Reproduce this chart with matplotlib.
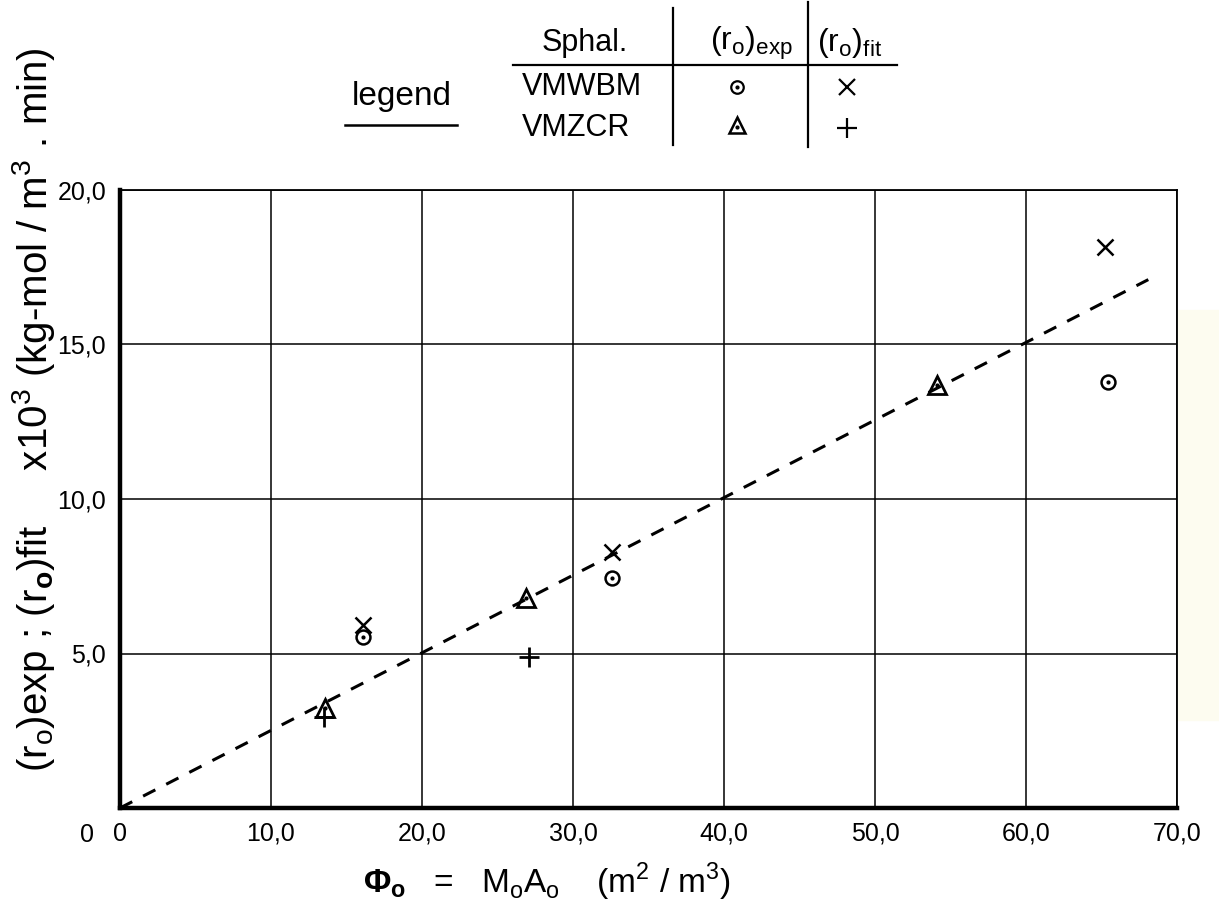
import numpy as np
import matplotlib.pyplot as plt
from matplotlib.patches import Rectangle
from matplotlib.transforms import ScaledTranslation

# values
wbm_exp_x = [16.1, 32.6, 65.4]
wbm_exp_y = [5.53, 7.45, 13.8]
wbm_fit_x = [16.1, 32.6, 65.2]
wbm_fit_y = [5.92, 8.3, 18.15]
zcr_exp_x = [13.6, 26.9, 54.1]
zcr_exp_y = [3.24, 6.8, 13.7]
zcr_fit_x = [13.5, 27.1]
zcr_fit_y = [2.95, 4.9]
line_x = [0, 68.1]
line_y = [0, 17.1]

x_ticks = [0, 10, 20, 30, 40, 50, 60, 70]
x_labels = ['0', '10,0', '20,0', '30,0', '40,0', '50,0', '60,0', '70,0']
y_ticks = [0, 5, 10, 15, 20]
y_labels = ['0', '5,0', '10,0', '15,0', '20,0']

plt.rcParams['font.family'] = ['Liberation Sans', 'DejaVu Sans']
plt.rcParams['mathtext.fontset'] = 'custom'
plt.rcParams['mathtext.rm'] = 'Liberation Sans'
plt.rcParams['mathtext.bf'] = 'Liberation Sans:bold'

W, H = 1219, 910
fig = plt.figure(figsize=(W / 100, H / 100), dpi=100)

# faint yellow scan patch on the right
fig.patches.append(Rectangle((1160 / W, 1 - 720 / H), 59 / W, 410 / H,
                             transform=fig.transFigure, color='#fdfcf0', zorder=-5))

ax = fig.add_axes([120 / W, 1 - 808 / H, 1057 / W, 618 / H])
ax.set_xlim(0, 70)
ax.set_ylim(0, 20)
ax.set_xticks(x_ticks)
ax.set_xticklabels(x_labels, fontsize=18)
ax.set_yticks(y_ticks)
ax.set_yticklabels(y_labels, fontsize=18)
ax.tick_params(length=0, pad=10)
ax.grid(True, color='k', lw=1.1)
ax.set_axisbelow(True)
for s in ['left', 'bottom']:
    ax.spines[s].set_linewidth(3.2)
for s in ['top', 'right']:
    ax.spines[s].set_linewidth(1.3)

# the "0" label of y sits lower left in the scan
lab0 = ax.get_yticklabels()[0]
lab0.set_transform(lab0.get_transform() + ScaledTranslation(-0.12, -0.24, fig.dpi_scale_trans))

# fit line
ax.plot(line_x, line_y, color='k', lw=2.2, ls=(0, (4.5, 4)))

# VMWBM
ax.plot(wbm_exp_x, wbm_exp_y, 'o', mfc='none', mec='k', ms=10, mew=1.8)
ax.plot(wbm_exp_x, wbm_exp_y, '.', color='k', ms=4)
ax.plot(wbm_fit_x, wbm_fit_y, 'x', color='k', ms=12, mew=1.8)
# VMZCR
ax.plot(zcr_exp_x, zcr_exp_y, '^', mfc='none', mec='k', ms=13, mew=2)
ax.plot(zcr_exp_x, zcr_exp_y, '.', color='k', ms=4)
ax.plot(zcr_fit_x, zcr_fit_y, '+', color='k', ms=15, mew=2)

ax.set_xlabel(r'$\mathbf{\Phi_o}$   =   M$_\mathregular{o}$A$_\mathregular{o}$    (m$^2$ / m$^3$)',
              fontsize=24, ha='left', va='center')
ax.xaxis.set_label_coords((363 - 120) / 1057, (808 - 882) / 618)
ax.set_ylabel(r'(r$_\mathregular{o}$)exp ; (r$_\mathbf{o}$)fit     x10$^3$ (kg-mol / m$^3$ . min)',
              fontsize=29, ha='center', va='center')
ax.yaxis.set_label_coords((34 - 120) / 1057, (808 - 410) / 618)

# legend table drawn in pixel space
ov = fig.add_axes([0, 0, 1, 1])
ov.set_xlim(0, W)
ov.set_ylim(H, 0)
ov.axis('off')
ov.text(585, 43, 'Sphal.', ha='center', va='center', fontsize=22)
ov.text(752, 43, r'(r$_\mathregular{o}$)$_\mathregular{exp}$', ha='center', va='center', fontsize=23)
ov.text(850, 43, r'(r$_\mathregular{o}$)$_\mathregular{fit}$', ha='center', va='center', fontsize=23)
ov.plot([513, 897], [65, 65], color='k', lw=1.6)
ov.plot([673, 673], [8, 145], color='k', lw=1.6)
ov.plot([808, 808], [2, 147], color='k', lw=1.6)
ov.text(522, 87, 'VMWBM', ha='left', va='center', fontsize=22)
ov.text(522, 128, 'VMZCR', ha='left', va='center', fontsize=22)
ov.plot([737], [87], 'o', mfc='none', mec='k', ms=9, mew=1.6)
ov.plot([737], [87], '.', color='k', ms=4)
ov.plot([847], [87], 'x', color='k', ms=11, mew=1.6)
ov.plot([737], [125], '^', mfc='none', mec='k', ms=12, mew=1.8)
ov.plot([737], [127], '.', color='k', ms=4)
ov.plot([847], [128], '+', color='k', ms=14, mew=1.6)
ov.text(452, 97, 'legend', ha='right', va='center', fontsize=24)
ov.plot([345, 457], [125, 125], color='k', lw=1.8)

fig.savefig('out.png', dpi=100)
